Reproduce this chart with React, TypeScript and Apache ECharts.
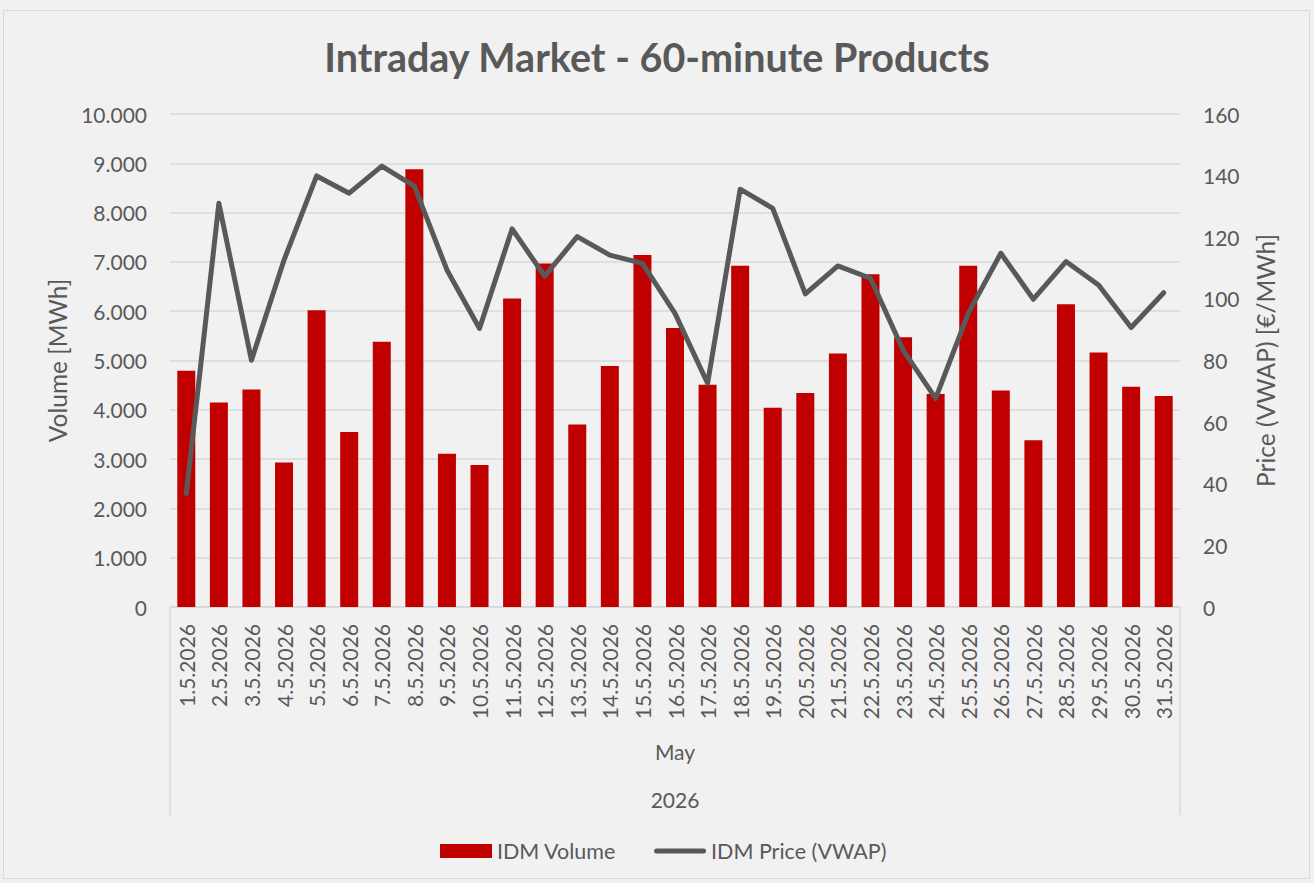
import React, { useEffect, useRef } from "react";
import * as echarts from "echarts";

const days: string[] = [
  "1.5.2026", "2.5.2026", "3.5.2026", "4.5.2026", "5.5.2026", "6.5.2026", "7.5.2026", "8.5.2026",
  "9.5.2026", "10.5.2026", "11.5.2026", "12.5.2026", "13.5.2026", "14.5.2026", "15.5.2026", "16.5.2026",
  "17.5.2026", "18.5.2026", "19.5.2026", "20.5.2026", "21.5.2026", "22.5.2026", "23.5.2026", "24.5.2026",
  "25.5.2026", "26.5.2026", "27.5.2026", "28.5.2026", "29.5.2026", "30.5.2026", "31.5.2026",
];
const monthLabel: string[] = ["May"];
const yearLabel: string[] = ["2026"];

const idmVolume: number[] = [
  4790, 4150, 4410, 2930, 6020, 3550, 5380, 8880, 3110, 2880, 6260, 6970, 3700, 4890, 7140, 5660,
  4510, 6920, 4040, 4340, 5140, 6750, 5470, 4320, 6920, 4390, 3380, 6140, 5160, 4470, 4280,
];
const idmPrice: number[] = [
  36.8, 131.0, 80.1, 112.6, 139.9, 134.3, 143.1, 136.6, 109.4, 90.4, 122.7, 107.4, 120.2, 114.2, 111.5, 95.3,
  72.6, 135.6, 129.4, 101.6, 110.7, 106.7, 83.4, 67.7, 95.3, 114.8, 99.9, 112.1, 104.5, 90.7, 102.0,
];

const FONT = "Lato";
const TXT = "#595959";
const GRIDC = "#d9d9d9";

export default function App() {
  const ref = useRef<HTMLDivElement>(null);
  useEffect(() => {
    document.body.style.margin = "0";
    const chart = echarts.init(ref.current!, null, { renderer: "svg" });
    const fmt = (v: number) => {
      if (v === 0) return "0";
      const s = String(Math.round(v));
      return s.replace(/\B(?=(\d{3})+(?!\d))/g, ".");
    };
    chart.setOption({
      animation: false,
      backgroundColor: "#f1f1f1",
      textStyle: { fontFamily: FONT, color: TXT },
      title: {
        text: "Intraday Market - 60-minute Products",
        left: "center",
        top: 31,
        textStyle: { fontFamily: FONT, fontSize: 39.5, fontWeight: "bold", color: TXT },
      },
      graphic: [
        {
          type: "rect",
          shape: { x: 3.5, y: 10.5, width: 1306, height: 868 },
          style: { fill: "none", stroke: "#d9d9d9", lineWidth: 1 },
          silent: true,
          z: -1,
        },
      ],
      legend: {
        left: 435,
        top: 835,
        itemGap: 38,
        itemWidth: 52,
        itemHeight: 14,
        textStyle: { fontFamily: FONT, fontSize: 21.5, color: TXT, padding: [0, 0, 0, 0] },
        data: [
          { name: "IDM Volume", icon: "rect" },
          {
            name: "IDM Price (VWAP)",
            icon: "path://M2.5,0 L49.5,0 A2.5,2.5 0 0 1 49.5,5 L2.5,5 A2.5,2.5 0 0 1 2.5,0 Z",
            itemStyle: { color: "#595959" },
          },
        ],
      },
      grid: { left: 170, right: 134, top: 114, bottom: 276, containLabel: false, outerBoundsMode: "none" },
      xAxis: [
        {
          type: "category",
          data: days,
          axisLine: { show: true, lineStyle: { color: GRIDC, width: 1.5 } },
          axisTick: { show: false },
          axisLabel: {
            rotate: 90,
            margin: 17,
            fontFamily: FONT,
            fontSize: 21,
            color: TXT,
            interval: 0,
          },
        },
        {
          type: "category",
          data: monthLabel,
          position: "bottom",
          axisLine: { show: false },
          axisTick: { show: true, length: 208, lineStyle: { color: GRIDC, width: 1.5 } },
          axisLabel: { margin: 134, fontFamily: FONT, fontSize: 21, color: TXT },
        },
        {
          type: "category",
          data: yearLabel,
          position: "bottom",
          axisLine: { show: false },
          axisTick: { show: false },
          axisLabel: { margin: 182, fontFamily: FONT, fontSize: 21, color: TXT },
        },
      ],
      yAxis: [
        {
          type: "value",
          min: 0,
          max: 10000,
          interval: 1000,
          name: "Volume [MWh]",
          nameLocation: "middle",
          nameRotate: 90,
          nameGap: 97,
          nameTextStyle: { fontFamily: FONT, fontSize: 24.5, color: TXT },
          axisLine: { show: false },
          axisTick: { show: false },
          axisLabel: { margin: 23, fontFamily: FONT, fontSize: 21, color: TXT, formatter: fmt },
          splitLine: { show: true, lineStyle: { color: GRIDC, width: 1.5 } },
        },
        {
          type: "value",
          min: 0,
          max: 160,
          interval: 20,
          position: "right",
          name: "Price (VWAP) [€/MWh]",
          nameLocation: "middle",
          nameRotate: 90,
          nameGap: 73,
          nameTextStyle: { fontFamily: FONT, fontSize: 24.5, color: TXT },
          axisLine: { show: false },
          axisTick: { show: false },
          axisLabel: { margin: 23, fontFamily: FONT, fontSize: 21, color: TXT },
          splitLine: { show: false },
        },
      ],
      series: [
        {
          name: "IDM Volume",
          type: "bar",
          data: idmVolume,
          xAxisIndex: 0,
          yAxisIndex: 0,
          barWidth: 18,
          itemStyle: { color: "#c00000" },
        },
        {
          name: "IDM Price (VWAP)",
          type: "line",
          data: idmPrice,
          xAxisIndex: 0,
          yAxisIndex: 1,
          symbol: "none",
          showSymbol: false,
          lineStyle: { color: "#595959", width: 5, cap: "round", join: "round" },
          itemStyle: { color: "#595959" },
        },
      ],
    });
    return () => chart.dispose();
  }, []);
  return <div ref={ref} style={{ width: 1314, height: 883 }} />;
}
